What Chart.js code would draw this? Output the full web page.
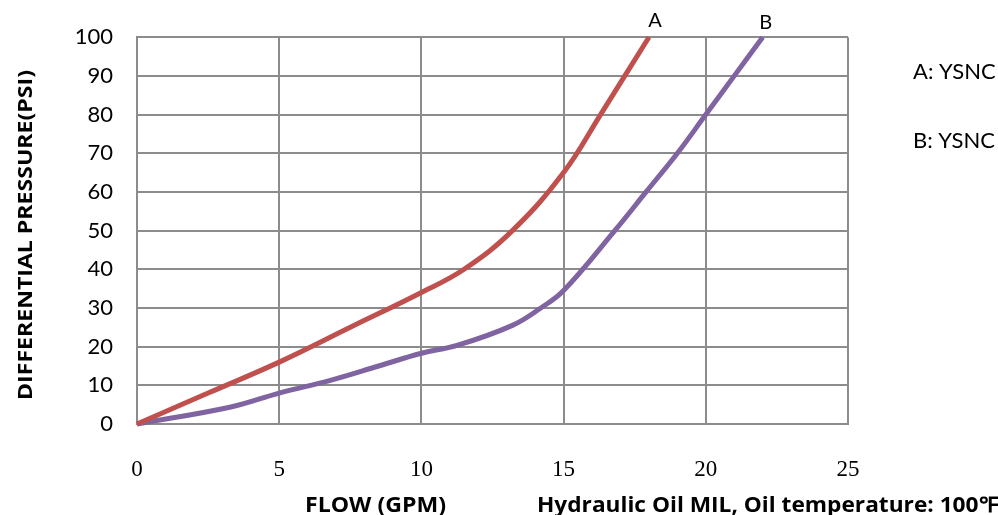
<!DOCTYPE html>
<html>
<head>
<meta charset="utf-8">
<script src="https://cdn.jsdelivr.net/npm/chart.js@4.4.0/dist/chart.umd.min.js"></script>
<style>
  html, body { margin: 0; padding: 0; background: #fff; overflow: hidden; }
  #wrap { width: 998px; height: 515px; position: relative; }
</style>
</head>
<body>
<div id="wrap"><canvas id="chart" width="998" height="515"></canvas></div>
<script>
// curve A and curve B
const aFlow = [0, 2.5, 5, 7.5, 10, 11.5, 13.2, 15, 16.3, 18];
const aPsi  = [0, 8, 16, 25, 34, 40, 50, 65, 80, 100];
const bFlow = [0, 3.3, 5, 6.8, 8.5, 10, 11.25, 13.2, 14.2, 15, 16.8, 17.9, 19, 20, 21, 22];
const bPsi  = [0, 4.4, 8, 11.3, 15, 18.3, 20.3, 25.5, 30, 34.5, 50, 60, 70, 80, 90, 100];
const curveNames = ['A', 'B'];
const noteLines = ['A: YSNC', 'B: YSNC'];

const sansFont = 'Lato, "Open Sans", sans-serif';
const boldFont = '"Open Sans", Lato, sans-serif';

function toPoints(xs, ys) {
  let pts = [];
  for (let i = 0; i < xs.length; i++) pts.push({ x: xs[i], y: ys[i] });
  return pts;
}

// write text squeezed/stretched to a given width
function fitText(ctx, txt, x, y, w) {
  let m = ctx.measureText(txt).width;
  ctx.save();
  ctx.translate(x, y);
  ctx.scale(w / m, 1);
  ctx.fillText(txt, 0, 0);
  ctx.restore();
}

const textPlugin = {
  id: 'extraText',
  afterDraw(chart) {
    const ctx = chart.ctx;
    const xs = chart.scales.x;
    ctx.save();
    ctx.fillStyle = '#000';
    ctx.textBaseline = 'alphabetic';

    // curve names at the top end of each curve
    ctx.font = '20px ' + sansFont;
    ctx.textAlign = 'center';
    ctx.fillText(curveNames[0], xs.getPixelForValue(aFlow[aFlow.length - 1]) + 6, 27);
    ctx.fillText(curveNames[1], xs.getPixelForValue(bFlow[bFlow.length - 1]) + 3, 29);

    // notes on the right
    ctx.textAlign = 'left';
    ctx.font = '22px ' + sansFont;
    ctx.fillText(noteLines[0], 913, 79);
    ctx.fillText(noteLines[1], 913, 148);

    // axis titles
    ctx.font = 'bold 21px ' + boldFont;
    fitText(ctx, 'FLOW (GPM)', 305, 512, 141);
    fitText(ctx, 'Hydraulic Oil MIL, Oil temperature: 100\u2109', 537, 512, 461);

    ctx.translate(32, 400);
    ctx.rotate(-Math.PI / 2);
    ctx.font = 'bold 20px ' + boldFont;
    fitText(ctx, 'DIFFERENTIAL PRESSURE(PSI)', 0, 0, 330);
    ctx.restore();
  }
};

const ctx = document.getElementById('chart');

new Chart(ctx, {
  type: 'scatter',
  data: {
    datasets: [{
      label: 'A',
      data: toPoints(aFlow, aPsi),
      borderColor: '#C0504D',
      borderWidth: 5,
      pointRadius: 0,
      showLine: true,
      tension: 0.4
    }, {
      label: 'B',
      data: toPoints(bFlow, bPsi),
      borderColor: '#8064A2',
      borderWidth: 5,
      pointRadius: 0,
      showLine: true,
      tension: 0.4
    }]
  },
  options: {
    responsive: false,
    animation: false,
    clip: false,
    layout: { padding: { left: 0, right: 150, top: 36, bottom: 0 } },
    plugins: { legend: { display: false }, tooltip: { enabled: false } },
    scales: {
      x: {
        type: 'linear',
        min: 0, max: 25,
        ticks: { stepSize: 5, padding: 32, color: '#000', font: { family: '"Liberation Serif", serif', size: 23 } },
        grid: { color: '#8c8c8c', lineWidth: 2, drawTicks: false },
        border: { color: '#8c8c8c', width: 2 },
        afterFit(scale) { scale.height = 91; }
      },
      y: {
        min: 0, max: 100,
        ticks: { stepSize: 10, padding: 24, color: '#000', font: { family: sansFont, size: 22 } },
        grid: { color: '#8c8c8c', lineWidth: 2, drawTicks: false },
        border: { color: '#8c8c8c', width: 2 },
        afterFit(scale) { scale.width = 137; }
      }
    }
  },
  plugins: [textPlugin]
});
</script>
</body>
</html>
